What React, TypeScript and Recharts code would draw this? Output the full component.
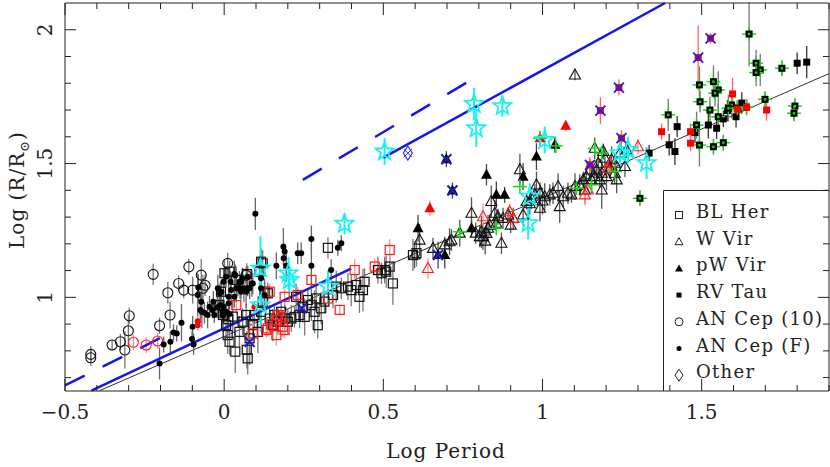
import * as React from "react"
import { ScatterChart, Scatter, XAxis, YAxis, ErrorBar, ReferenceLine } from "recharts"

type Pt = [number, number, number]

// ---- data: [log P, log R, error] ----
const blHer: Pt[] = [
  [0.001, 1.09, 0.05], [-0.01, 1.021, 0.04], [-0.015, 0.971, 0.05], [-0.004, 0.934, 0.06], [0.006, 0.896, 0.05],
  [0.011, 0.859, 0.07], [0.017, 0.834, 0.05], [0.035, 0.797, 0.08], [0.048, 0.871, 0.06], [0.058, 0.909, 0.05],
  [0.069, 0.934, 0.04], [0.074, 0.772, 0.06], [0.08, 0.847, 0.1], [0.09, 0.896, 0.04], [0.095, 0.934, 0.05],
  [0.106, 0.871, 0.08], [0.116, 0.946, 0.05], [0.121, 0.984, 0.04], [0.127, 1.021, 0.05], [0.137, 1.015, 0.04],
  [0.143, 0.921, 0.05], [0.153, 0.896, 0.06], [0.158, 0.934, 0.04], [0.169, 0.909, 0.05], [0.179, 0.946, 0.04],
  [0.19, 0.921, 0.06], [0.2, 0.909, 0.05], [0.211, 0.921, 0.05], [0.221, 0.927, 0.04], [0.226, 1.002, 0.05],
  [0.237, 0.934, 0.05], [0.247, 0.965, 0.06], [0.253, 0.927, 0.07], [0.263, 0.99, 0.04], [0.274, 0.971, 0.06],
  [0.284, 0.946, 0.08], [0.289, 0.996, 0.05], [0.294, 0.896, 0.05], [0.305, 0.959, 0.06], [0.315, 0.984, 0.04],
  [0.326, 1.185, 0.04], [0.342, 1.009, 0.05], [0.352, 1.04, 0.06], [0.368, 1.034, 0.04], [0.389, 1.04, 0.05],
  [0.399, 1.027, 0.06], [0.415, 1.046, 0.04], [0.425, 1.002, 0.06], [0.436, 1.027, 0.08], [0.441, 1.058, 0.05],
  [0.483, 1.102, 0.05], [0.494, 1.09, 0.04], [0.509, 1.096, 0.06], [0.116, 1.133, 0.05], [0.111, 1.096, 0.06],
  [0.504, 1.102, 0.05], [0.52, 1.115, 0.04], [0.53, 1.052, 0.08], [0.593, 1.158, 0.06], [0.604, 1.165, 0.05],
  [0.013, 0.918, 0.05], [0.027, 0.928, 0.06], [0.071, 0.804, 0.07], [0.017, 1.096, 0.04], [0.038, 1.065, 0.05],
  [0.071, 1.087, 0.04], [0.121, 1.127, 0.05],
]
const blHerRed: Pt[] = [
  [0.038, 0.971, 0.03], [0.09, 0.865, 0.04], [0.137, 0.884, 0.03], [0.164, 0.859, 0.04], [0.169, 0.934, 0.03],
  [0.179, 0.927, 0.03], [0.184, 0.89, 0.04], [0.19, 0.878, 0.03], [0.231, 1.009, 0.03], [0.274, 1.065, 0.03],
  [0.143, 1.021, 0.03], [0.19, 1.002, 0.03], [0.326, 0.996, 0.03], [0.363, 0.953, 0.02], [0.41, 1.102, 0.04],
  [0.473, 1.115, 0.03], [0.52, 1.177, 0.04], [0.132, 0.878, 0.03], [0.164, 0.915, 0.03], [0.148, 0.899, 0.03],
]
const wVir: Pt[] = [
  [0.598, 1.158, 0.05], [0.614, 1.214, 0.06], [0.656, 1.183, 0.04], [0.693, 1.196, 0.03], [0.708, 1.208, 0.05],
  [0.714, 1.214, 0.04], [0.777, 1.314, 0.06], [0.803, 1.227, 0.04], [0.808, 1.245, 0.06], [0.813, 1.227, 0.05],
  [0.824, 1.239, 0.04], [0.829, 1.258, 0.05], [0.834, 1.27, 0.04], [0.839, 1.358, 0.06], [0.85, 1.314, 0.05],
  [0.855, 1.277, 0.04], [0.86, 1.301, 0.03], [0.871, 1.202, 0.04], [0.876, 1.295, 0.04], [0.892, 1.308, 0.03],
  [0.908, 1.295, 0.04], [0.929, 1.477, 0.06], [0.939, 1.308, 0.04], [0.95, 1.358, 0.03], [0.965, 1.37, 0.04],
  [0.981, 1.42, 0.05], [0.992, 1.389, 0.04], [0.992, 1.333, 0.05], [0.976, 1.383, 0.04], [1.007, 1.376, 0.05],
  [1.023, 1.383, 0.04], [1.033, 1.389, 0.04], [1.049, 1.414, 0.05], [1.054, 1.339, 0.06], [1.065, 1.376, 0.04],
  [1.08, 1.389, 0.04], [1.091, 1.383, 0.03], [1.102, 1.414, 0.05], [1.117, 1.42, 0.04], [1.128, 1.439, 0.03],
  [1.133, 1.401, 0.05], [1.138, 1.451, 0.04], [1.149, 1.476, 0.04], [1.154, 1.439, 0.05], [1.164, 1.451, 0.03],
  [1.164, 1.557, 0.04], [1.17, 1.476, 0.04], [1.175, 1.501, 0.04], [1.18, 1.439, 0.03], [1.186, 1.464, 0.05],
  [1.186, 1.401, 0.07], [1.191, 1.545, 0.03], [1.196, 1.52, 0.04], [1.201, 1.451, 0.05], [1.212, 1.482, 0.04],
  [1.217, 1.514, 0.05], [1.227, 1.501, 0.04], [1.227, 1.464, 0.04], [1.233, 1.439, 0.05], [1.243, 1.539, 0.03],
  [1.259, 1.489, 0.04], [1.264, 1.551, 0.03], [1.102, 1.831, 0.02], [0.74, 1.24, 0.05], [0.79, 1.24, 0.04],
  [0.82, 1.21, 0.05], [0.9, 1.27, 0.03], [0.96, 1.35, 0.04], [1.0, 1.36, 0.05],
]
const wVirRed: Pt[] = [
  [0.64, 1.108, 0.04], [0.813, 1.301, 0.05], [0.897, 1.32, 0.03], [0.908, 1.295, 0.03], [1.133, 1.383, 0.04],
  [1.143, 1.401, 0.03], [1.206, 1.482, 0.03], [1.212, 1.501, 0.03], [1.3, 1.563, 0.03],
]
const pwVir: Pt[] = [
  [0.609, 1.258, 0.05], [0.693, 1.158, 0.05], [0.777, 1.258, 0.03], [0.824, 1.458, 0.04], [0.855, 1.383, 0.05],
  [0.881, 1.383, 0.03], [0.939, 1.451, 0.05], [0.981, 1.526, 0.05], [1.039, 1.57, 0.03], [0.698, 1.516, 0.03],
  [0.717, 1.399, 0.03], [0.672, 1.158, 0.05],
]
const pwVirRed: Pt[] = [[0.646, 1.333, 0.03], [1.073, 1.641, 0.02], [0.992, 1.595, 0.03]]
const rvTau: Pt[] = [
  [1.8, 1.875, 0.04], [1.83, 1.879, 0.06], [1.423, 1.638, 0.04], [1.398, 1.57, 0.04], [1.416, 1.545, 0.05],
  [1.479, 1.616, 0.04], [1.521, 1.644, 0.05], [1.547, 1.632, 0.04], [1.568, 1.667, 0.03], [1.581, 1.698, 0.04],
  [1.608, 1.675, 0.04], [1.626, 1.726, 0.04], [1.335, 1.539, 0.03],
]
const rvTauGreen: Pt[] = [
  [1.649, 1.984, 0.12], [1.671, 1.875, 0.05], [1.684, 1.85, 0.06], [1.671, 1.84, 0.05], [1.752, 1.856, 0.03],
  [1.493, 1.794, 0.07], [1.537, 1.806, 0.06], [1.552, 1.775, 0.07], [1.542, 1.763, 0.05], [1.495, 1.731, 0.04],
  [1.594, 1.719, 0.05], [1.584, 1.707, 0.05], [1.612, 1.707, 0.03], [1.641, 1.711, 0.03], [1.699, 1.74, 0.03],
  [1.395, 1.682, 0.06], [1.484, 1.644, 0.05], [1.526, 1.7, 0.05], [1.552, 1.675, 0.05], [1.568, 1.578, 0.03],
  [1.537, 1.563, 0.03], [1.493, 1.569, 0.08], [1.793, 1.715, 0.03], [1.79, 1.688, 0.03], [1.306, 1.37, 0.03],
]
const rvTauRed: Pt[] = [
  [1.374, 1.619, 0.03], [1.465, 1.619, 0.03], [1.465, 1.576, 0.03], [1.597, 1.76, 0.06], [1.612, 1.703, 0.03],
  [1.641, 1.711, 0.03], [1.704, 1.7, 0.04],
]
const rvTauRedX: Pt[] = [
  [1.149, 1.495, 0.03], [1.182, 1.698, 0.05], [1.24, 1.784, 0.03], [1.248, 1.595, 0.03], [1.489, 1.896, 0.12],
  [1.528, 1.968, 0.02],
]
const anCep10: Pt[] = [
  [-0.419, 0.787, 0.03], [-0.419, 0.774, 0.03], [-0.352, 0.822, 0.02], [-0.326, 0.834, 0.03], [-0.312, 0.803, 0.07],
  [-0.301, 0.875, 0.06], [-0.298, 0.931, 0.03], [-0.223, 1.086, 0.04], [-0.203, 0.894, 0.03], [-0.177, 1.017, 0.04],
  [-0.17, 0.934, 0.05], [-0.143, 1.052, 0.03], [-0.127, 1.027, 0.03], [-0.111, 1.114, 0.03], [-0.099, 1.027, 0.05],
  [-0.072, 1.083, 0.06], [-0.067, 1.034, 0.05], [-0.06, 1.045, 0.04], [0.011, 1.127, 0.04], [0.069, 1.083, 0.03],
]
const anCep10Red: Pt[] = [[-0.285, 0.832, 0.03], [-0.245, 0.822, 0.03], [-0.209, 0.837, 0.03]]
const anCepF: Pt[] = [
  [-0.203, 0.753, 0.06], [-0.19, 0.824, 0.03], [-0.169, 0.834, 0.04], [-0.159, 0.869, 0.03], [-0.149, 0.865, 0.03],
  [-0.134, 0.905, 0.07], [-0.101, 0.844, 0.03], [-0.096, 0.824, 0.04], [-0.099, 0.89, 0.04], [-0.083, 1.009, 0.08],
  [-0.081, 1.037, 0.05], [-0.072, 0.984, 0.06], [-0.075, 0.953, 0.05], [-0.07, 0.946, 0.06], [-0.062, 0.942, 0.04],
  [-0.052, 0.934, 0.05], [-0.046, 0.965, 0.04], [-0.036, 0.952, 0.03], [-0.034, 0.984, 0.04], [-0.031, 0.934, 0.03],
  [-0.022, 0.963, 0.04], [-0.02, 1.034, 0.05], [-0.013, 1.015, 0.04], [-0.009, 1.021, 0.03], [-0.012, 0.971, 0.05],
  [-0.004, 0.931, 0.06], [-0.004, 0.946, 0.04], [-0.002, 1.058, 0.05], [-0.002, 0.965, 0.06], [0.006, 0.946, 0.03],
  [0.006, 1.077, 0.04], [0.014, 1.002, 0.05], [0.014, 0.978, 0.04], [0.017, 0.938, 0.03], [0.02, 1.058, 0.04],
  [0.022, 1.027, 0.05], [0.032, 1.087, 0.05], [0.032, 1.002, 0.04], [0.035, 1.083, 0.04], [0.038, 1.034, 0.05],
  [0.043, 1.034, 0.03], [0.048, 1.058, 0.04], [0.05, 1.034, 0.04], [0.053, 1.021, 0.03], [0.053, 1.058, 0.03],
  [0.058, 1.071, 0.04], [0.062, 1.034, 0.05], [0.069, 1.021, 0.06], [0.074, 1.077, 0.04], [0.074, 1.034, 0.03],
  [0.08, 1.034, 0.04], [0.087, 1.052, 0.05], [0.09, 1.052, 0.04], [0.098, 1.312, 0.06], [0.116, 1.071, 0.05],
  [0.116, 1.034, 0.04], [0.127, 1.009, 0.05], [0.164, 1.118, 0.05], [0.186, 1.189, 0.07], [0.187, 1.146, 0.04],
  [0.19, 1.171, 0.03], [0.195, 1.118, 0.06], [0.231, 1.165, 0.04], [0.242, 1.165, 0.04], [0.274, 1.218, 0.05],
  [0.274, 1.118, 0.08], [0.336, 1.102, 0.04], [0.357, 1.185, 0.03], [0.368, 1.202, 0.03],
]
const anCepFRed: Pt[] = [[-0.083, 0.911, 0.02], [-0.083, 0.896, 0.02], [0.095, 0.965, 0.02]]
const cyanStars: Pt[] = [
  [0.504, 1.545, 0.05], [0.785, 1.723, 0.06], [0.792, 1.632, 0.07], [0.874, 1.715, 0.04], [0.114, 1.108, 0.12],
  [0.114, 0.971, 0.1], [0.202, 1.09, 0.06], [0.205, 1.065, 0.05], [0.326, 1.04, 0.06], [0.378, 1.275, 0.04],
  [0.96, 1.376, 0.05], [0.955, 1.277, 0.06], [1.007, 1.588, 0.05], [1.243, 1.539, 0.06], [1.269, 1.551, 0.05],
  [1.327, 1.502, 0.06],
]
const blueCross: Pt[] = [[0.698, 1.516, 0], [0.717, 1.399, 0], [0.672, 1.158, 0], [0.08, 0.834, 0], [0.244, 0.959, 0]]
const greenCross: Pt[] = [
  [0.74, 1.245, 0], [0.855, 1.258, 0], [0.929, 1.414, 0], [1.107, 1.408, 0], [1.154, 1.42, 0], [1.164, 1.557, 0],
  [1.186, 1.539, 0], [1.227, 1.47, 0], [1.042, 1.566, 0], [0.992, 1.595, 0],
]
const other: Pt[] = [[0.577, 1.539, 0]]

// relation lines: endpoints in (log P, log R)
const blueSolidLow = [{ x: -0.417, y: 0.651 }, { x: 0.399, y: 1.107 }]
const blueSolidHigh = [{ x: 0.5, y: 1.522 }, { x: 1.385, y: 2.1 }]
const blueDashLow = [{ x: -0.5, y: 0.671 }, { x: -0.197, y: 0.85 }]
const blueDashHigh = [{ x: 0.247, y: 1.439 }, { x: 0.771, y: 1.809 }]
const blackFit = [{ x: -0.392, y: 0.651 }, { x: 1.9, y: 1.836 }]

const majorX = [-0.5, 0, 0.5, 1, 1.5]
const majorY = [1, 1.5, 2]
const minorX = Array.from({ length: 25 }, (_, i) => Math.round(-5 + i) / 10)
const minorY = Array.from({ length: 14 }, (_, i) => Math.round(7 + i) / 10)
const legendNames = ["BL Her", "W Vir", "pW Vir", "RV Tau", "AN Cep (10)", "AN Cep (F)", "Other"]
const legendKinds = ["osq", "otri", "ftri", "fsq", "ocir", "fcir", "odia"]

const rows = (a: Pt[]) => a.map(([x, y, e]) => ({ x, y, e }))
const FONT = "DejaVu Serif"
const AX = "#222"
const isMajor = (v: number, list: number[]) => list.some(m => Math.abs(m - v) < 1e-6)
const fmt = (v: number) => (v < 0 ? "\u2212" : "") + String(Math.abs(v))

const star = (cx: number, cy: number, R: number, r: number) => {
  let d = ""
  for (let i = 0; i < 10; i++) {
    const a = -Math.PI / 2 + (i * Math.PI) / 5
    const rr = i % 2 === 0 ? R : r
    d += (i === 0 ? "M" : "L") + (cx + rr * Math.cos(a)).toFixed(2) + "," + (cy + rr * Math.sin(a)).toFixed(2)
  }
  return d + "Z"
}

const Sym = ({ kind, cx, cy, c }: { kind: string; cx: number; cy: number; c: string }) => {
  if (cx == null || cy == null) return null
  switch (kind) {
    case "osq":
      return <rect x={cx - 4.5} y={cy - 4.5} width={9} height={9} fill="none" stroke={c} strokeWidth={1.2} />
    case "fsq":
      return <rect x={cx - 3.5} y={cy - 3.5} width={7} height={7} fill={c} />
    case "gsq":
      return (
        <g>
          <line x1={cx - 7} x2={cx + 7} y1={cy} y2={cy} stroke="#12e012" strokeWidth={1.5} />
          <line x1={cx} x2={cx} y1={cy - 7} y2={cy + 7} stroke="#12e012" strokeWidth={1.5} />
          <rect x={cx - 3.5} y={cy - 3.5} width={7} height={7} fill="#000" />
          <rect x={cx - 1.2} y={cy - 1.2} width={2.4} height={2.4} fill="#12e012" />
        </g>
      )
    case "xsq":
      return (
        <g>
          <rect x={cx - 3.5} y={cy - 3.5} width={7} height={7} fill="#ff0000" />
          <path d={`M${cx - 5},${cy - 5}L${cx + 5},${cy + 5}M${cx - 5},${cy + 5}L${cx + 5},${cy - 5}`} stroke="#2020e0" strokeWidth={1.8} />
        </g>
      )
    case "otri":
      return <path d={`M${cx},${cy - 6}L${cx + 5.5},${cy + 4}L${cx - 5.5},${cy + 4}Z`} fill="none" stroke={c} strokeWidth={1.1} />
    case "ftri":
      return <path d={`M${cx},${cy - 6}L${cx + 5.5},${cy + 4}L${cx - 5.5},${cy + 4}Z`} fill={c} />
    case "ocir":
      return <circle cx={cx} cy={cy} r={5} fill="none" stroke={c} strokeWidth={1.1} />
    case "fcir":
      return <circle cx={cx} cy={cy} r={3} fill={c} />
    case "star":
      return <path d={star(cx, cy, 9.5, 4)} fill="none" stroke="#19f0f5" strokeWidth={1.8} />
    case "bx":
      return <path d={`M${cx - 5},${cy - 5}L${cx + 5},${cy + 5}M${cx - 5},${cy + 5}L${cx + 5},${cy - 5}`} stroke="#1c1cc8" strokeWidth={2} />
    case "gx":
      return (
        <g>
          <line x1={cx - 7} x2={cx + 7} y1={cy} y2={cy} stroke="#12e012" strokeWidth={1.5} />
          <line x1={cx} x2={cx} y1={cy - 7} y2={cy + 7} stroke="#12e012" strokeWidth={1.5} />
        </g>
      )
    case "odia":
      return (
        <g>
          <path d={`M${cx},${cy - 7}L${cx + 4.5},${cy}L${cx},${cy + 7}L${cx - 4.5},${cy}Z`} fill="none" stroke={c} strokeWidth={1.1} />
          <path d={`M${cx - 4},${cy - 4}L${cx + 4},${cy + 4}M${cx - 4},${cy + 4}L${cx + 4},${cy - 4}`} stroke={c} strokeWidth={1} />
        </g>
      )
    default:
      return null
  }
}

const series = [
  { key: "blHer", data: blHer, kind: "osq", c: "#111", err: "#777" },
  { key: "blHerRed", data: blHerRed, kind: "osq", c: "#ff1a1a", err: "#ff9090" },
  { key: "anCep10", data: anCep10, kind: "ocir", c: "#111", err: "#777" },
  { key: "anCep10Red", data: anCep10Red, kind: "ocir", c: "#ff1a1a", err: "#ff9090" },
  { key: "anCepF", data: anCepF, kind: "fcir", c: "#000", err: "#666" },
  { key: "anCepFRed", data: anCepFRed, kind: "fcir", c: "#ff0000", err: "#ff9090" },
  { key: "wVir", data: wVir, kind: "otri", c: "#111", err: "#555" },
  { key: "wVirRed", data: wVirRed, kind: "otri", c: "#ff1a1a", err: "#ff9090" },
  { key: "pwVir", data: pwVir, kind: "ftri", c: "#000", err: "#444" },
  { key: "pwVirRed", data: pwVirRed, kind: "ftri", c: "#ff0000", err: "#ff9090" },
  { key: "rvTau", data: rvTau, kind: "fsq", c: "#000", err: "#333" },
  { key: "rvTauGreen", data: rvTauGreen, kind: "gsq", c: "#000", err: "#777" },
  { key: "rvTauRed", data: rvTauRed, kind: "fsq", c: "#ff0000", err: "#ff6060" },
  { key: "rvTauRedX", data: rvTauRedX, kind: "xsq", c: "#ff0000", err: "#ff6060" },
  { key: "greenCross", data: greenCross, kind: "gx", c: "#12e012", err: "none" },
  { key: "blueCross", data: blueCross, kind: "bx", c: "#1c1cc8", err: "none" },
  { key: "other", data: other, kind: "odia", c: "#3030e0", err: "none" },
  { key: "cyan", data: cyanStars, kind: "star", c: "#19f0f5", err: "#19f0f5" },
]

const XTick = ({ x, y, payload, top }: any) => {
  const v = payload.value
  const major = isMajor(v, majorX)
  const len = major ? 12 : 6
  return (
    <g>
      <line x1={x} x2={x} y1={y} y2={top ? y + len : y - len} stroke={AX} strokeWidth={1} />
      {!top && major && (
        <text x={x} y={y + 28} textAnchor="middle" fontFamily={FONT} fontSize={20} fill="#222">{fmt(v)}</text>
      )}
    </g>
  )
}

const YTick = ({ x, y, payload, right }: any) => {
  const v = payload.value
  const major = isMajor(v, majorY)
  const len = major ? 11 : 6
  return (
    <g>
      <line x1={x} x2={right ? x - len : x + len} y1={y} y2={y} stroke={AX} strokeWidth={1} />
      {!right && major && (
        <text x={x - 13} y={y} transform={`rotate(-90, ${x - 13}, ${y})`} textAnchor="middle" fontFamily={FONT} fontSize={20} fill="#222">{fmt(v)}</text>
      )}
    </g>
  )
}

const LegendBox = () => (
  <svg width={830} height={467} style={{ position: "absolute", left: 0, top: 0, pointerEvents: "none" }}>
    <path d="M663.5,391V190.5H829" fill="none" stroke={AX} strokeWidth={1} />
    {legendNames.map((name, i) => {
      const by = 218 + i * 26.7
      const cx = 679
      const cy = by - 3
      const k = legendKinds[i]
      return (
        <g key={name}>
          {k === "osq" && <rect x={cx - 3.5} y={cy - 3.5} width={7} height={7} fill="none" stroke="#222" />}
          {k === "otri" && <path d={`M${cx},${cy - 4}L${cx + 4},${cy + 3}L${cx - 4},${cy + 3}Z`} fill="none" stroke="#222" />}
          {k === "ftri" && <path d={`M${cx},${cy - 4}L${cx + 4},${cy + 3}L${cx - 4},${cy + 3}Z`} fill="#000" />}
          {k === "fsq" && <rect x={cx - 2.5} y={cy - 2.5} width={5} height={5} fill="#000" />}
          {k === "ocir" && <circle cx={cx} cy={cy} r={4} fill="none" stroke="#222" />}
          {k === "fcir" && <circle cx={cx} cy={cy} r={2.5} fill="#000" />}
          {k === "odia" && <path d={`M${cx},${cy - 6}L${cx + 4},${cy}L${cx},${cy + 6}L${cx - 4},${cy}Z`} fill="none" stroke="#222" />}
          <text x={696} y={by} fontFamily={FONT} fontSize={18} letterSpacing={1.3} fill="#222">{name}</text>
        </g>
      )
    })}
  </svg>
)

export default function App() {
  return (
    <div style={{ position: "absolute", left: 0, top: 0, width: 830, height: 467, background: "#fff" }}>
      <ScatterChart width={830} height={467} margin={{ top: 2, right: 0, bottom: 75, left: 64 }}>
        <XAxis type="number" dataKey="x" domain={[-0.5, 1.9]} allowDataOverflow ticks={minorX} interval={0}
          height={1} tickSize={0} tickMargin={0} axisLine={{ stroke: AX }} tick={(p: any) => <XTick {...p} />} />
        <XAxis xAxisId="top" orientation="top" type="number" dataKey="x" domain={[-0.5, 1.9]} allowDataOverflow ticks={minorX}
          interval={0} height={1} tickSize={0} tickMargin={0} axisLine={{ stroke: AX }} tick={(p: any) => <XTick {...p} top />} />
        <YAxis type="number" dataKey="y" domain={[0.65, 2.1]} allowDataOverflow ticks={minorY} interval={0}
          width={1} tickSize={0} tickMargin={0} axisLine={{ stroke: AX }} tick={(p: any) => <YTick {...p} />} />
        <YAxis yAxisId="right" orientation="right" type="number" dataKey="y" domain={[0.65, 2.1]} allowDataOverflow ticks={minorY}
          interval={0} width={1} tickSize={0} tickMargin={0} axisLine={{ stroke: AX }} tick={(p: any) => <YTick {...p} right />} />
        <ReferenceLine segment={blackFit} stroke="#333" strokeWidth={1} ifOverflow="visible" />
        {series.map(s => (
          <Scatter key={s.key} data={rows(s.data)} isAnimationActive={false}
            shape={(p: any) => <Sym kind={s.kind} cx={p.cx} cy={p.cy} c={s.c} />}>
            {s.err !== "none" && (
              <ErrorBar dataKey="e" direction="y" width={0} stroke={s.err} strokeWidth={s.kind === "star" ? 2 : 1.3} isAnimationActive={false} />
            )}
          </Scatter>
        ))}
        <ReferenceLine segment={blueSolidLow} stroke="#1515ee" strokeWidth={2.5} ifOverflow="visible" />
        <ReferenceLine segment={blueSolidHigh} stroke="#1515ee" strokeWidth={2.5} ifOverflow="visible" />
        <ReferenceLine segment={blueDashLow} stroke="#1515ee" strokeWidth={2.5} strokeDasharray="22 20" ifOverflow="visible" />
        <ReferenceLine segment={blueDashHigh} stroke="#1515ee" strokeWidth={2.5} strokeDasharray="22 20" ifOverflow="visible" />
      </ScatterChart>
      <svg width={830} height={467} style={{ position: "absolute", left: 0, top: 0, pointerEvents: "none" }}>
        <text x={446} y={458} textAnchor="middle" fontFamily={FONT} fontSize={20} letterSpacing={1} fill="#222">Log Period</text>
        <text x={24} y={190} transform="rotate(-90, 24, 190)" textAnchor="middle" fontFamily={FONT} fontSize={20} letterSpacing={1} fill="#222">
          Log (R/R<tspan fontSize={13} dy={5}>{"\u2299"}</tspan><tspan dy={-5}>)</tspan>
        </text>
      </svg>
      <LegendBox />
    </div>
  )
}
